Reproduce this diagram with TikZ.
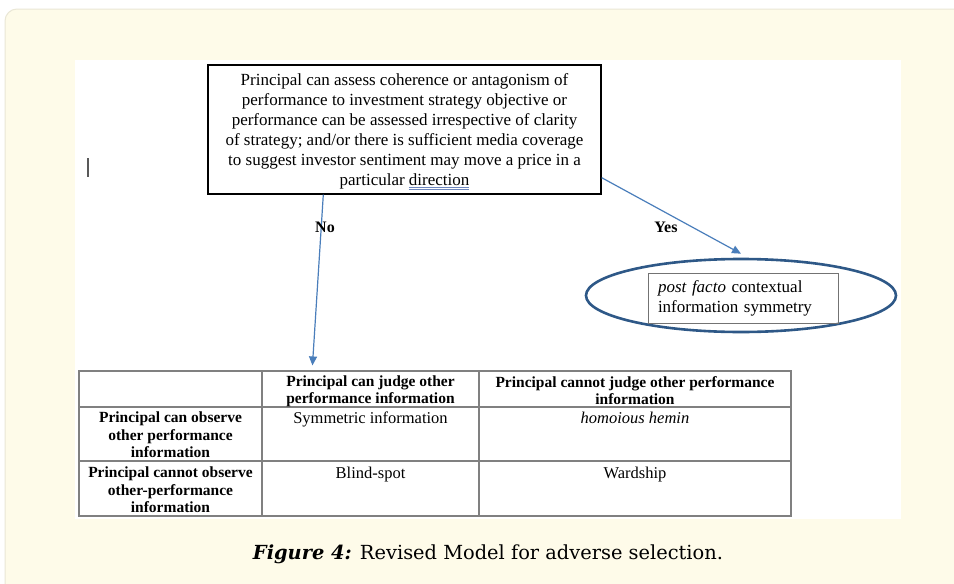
\documentclass[tikz,border=0pt]{standalone}
\usepackage{fontspec}
\setmainfont{Liberation Serif}
\newfontfamily\capfont{DejaVu Serif}
\usetikzlibrary{arrows.meta,shapes.geometric}
\definecolor{cream}{RGB}{254,251,233}
\definecolor{creamline}{RGB}{234,231,214}
\definecolor{arrowblue}{RGB}{74,126,187}
\definecolor{ellblue}{RGB}{46,88,135}
\definecolor{tblgray}{RGB}{128,128,128}
\definecolor{ulblue}{RGB}{110,135,190}
\begin{document}
\begin{tikzpicture}[x=1pt,y=-1pt,
  arr/.style={draw=arrowblue, line width=1.2pt, -{Triangle[length=9pt,width=8pt]}},
  lbl/.style={font=\fontsize{16}{18}\selectfont\bfseries, inner sep=0pt},
  th/.style={font=\fontsize{15.5}{17.5}\selectfont\bfseries, align=center, inner sep=0pt, anchor=north},
  td/.style={font=\fontsize{16.5}{17.5}\selectfont, align=center, inner sep=0pt, anchor=north},
  grid/.style={draw=tblgray, line width=1.1pt},
]
\useasboundingbox (0,0) rectangle (954,584);
\fill[white] (0,0) rectangle (954,584);
\draw[creamline, fill=cream, line width=1pt, rounded corners=12pt] (5,9) rectangle (980,610);
\fill[white] (75,60) rectangle (901,519);
% stray cursor mark
\draw[black!65, line width=1.2pt] (88,158) -- (88,177);

% main question box
\node[draw=black, line width=1.4pt, minimum width=393pt, minimum height=129pt, inner sep=0pt] (box) at (404.5,129.5) {};
\node[inner sep=0pt, align=center, font=\fontsize{17}{20}\selectfont] (boxtext) at (404.5,132)
 {Principal can assess coherence or antagonism of\\
  performance to investment strategy objective or\\
  performance can be assessed irrespective of clarity\\
  of strategy; and/or there is sufficient media coverage\\
  to suggest investor sentiment may move a price in a\\
  particular {\color{ulblue}\underline{\underline{\color{black}direction}}}};

% ellipse outcome
\node[ellipse, draw=ellblue, line width=2.6pt, minimum width=310pt, minimum height=73pt, inner sep=0pt] (ell) at (741,295.5) {};
\node[draw=black!55, line width=0.8pt, text width=170pt, inner xsep=10pt, inner ysep=0pt,
      minimum height=50pt, align=left, font=\fontsize{17}{20}\selectfont] (pf) at (743,298)
 {\textit{post facto} contextual\\information symmetry};

% table
\node[grid, minimum width=712pt, minimum height=145pt, inner sep=0pt] (tbl) at (435,443.5) {};
\draw[grid] (79,407) -- (791,407);
\draw[grid] (79,461) -- (791,461);
\draw[grid] (262,371) -- (262,516);
\draw[grid] (479,371) -- (479,516);

\node[th] (h2) at (370.5,375.5) {Principal can judge other\\performance information};
\node[th] (h3) at (635,376) {Principal cannot judge other performance\\information};
\node[th] (r1) at (170.5,412) {Principal can observe\\other performance\\information};
\node[th] (r2) at (170.5,467) {Principal cannot observe\\other-performance\\information};
\node[td] (c11) at (370.5,412) {Symmetric information};
\node[td] (c12) at (635,412) {\textit{homoious hemin}};
\node[td] (c21) at (370.5,467) {Blind-spot};
\node[td] (c22) at (635,467) {Wardship};

% connectors
\draw[arr] ([xshift=116pt]box.south west) -- ([xshift=234pt,yshift=5pt]tbl.north west);
\draw[arr] ([yshift=17pt]box.south east) -- ([yshift=4pt]ell.north);
\node[lbl] (no) at (325,227) {No};
\node[lbl] (yes) at (666,227) {Yes};

% caption
\node[inner sep=0pt, font=\capfont\fontsize{19.4}{22}\selectfont] (cap) at (488,554)
 {\textbf{\textit{Figure 4:}} Revised Model for adverse selection.};
\end{tikzpicture}
\end{document}
